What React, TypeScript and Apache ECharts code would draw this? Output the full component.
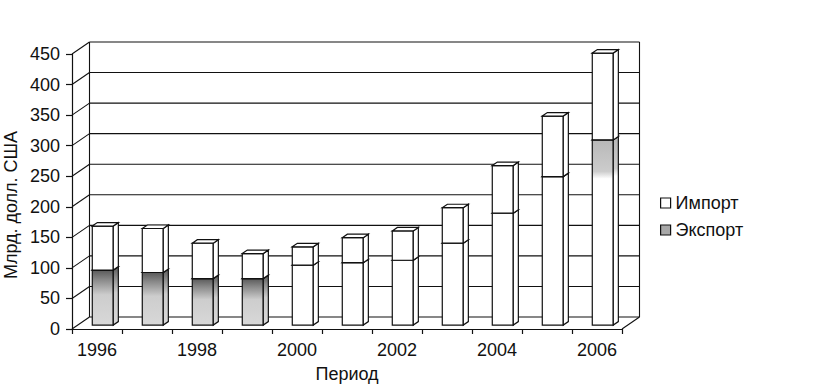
import React, { useEffect, useRef } from 'react';
import * as echarts from 'echarts';

const categories = ['1996', '1997', '1998', '1999', '2000', '2001', '2002', '2003', '2004', '2005', '2006'];
const exportValues = [90, 86, 76, 76, 98, 102, 106, 134, 183, 243, 303];
const importValues = [72, 72, 58, 41, 30, 41, 48, 58, 78, 99, 142];
const yTicks = [0, 50, 100, 150, 200, 250, 300, 350, 400, 450];
const seriesNames = { imp: 'Импорт', exp: 'Экспорт' };
const yTitle = 'Млрд. долл. США';
const xTitle = 'Период';

// styling (not data)
const EXPORT_SHADE = ['dark', 'dark', 'dark', 'dark', 'none', 'none', 'none', 'none', 'none', 'none', 'light'];
const DEPTH_X = 17.5;
const DEPTH_Y = -12;
const BAR_FRONT = 0.33;
const BAR_BACK = 0.62;
const BAR_RATIO = 0.42;
const LINE = '#111';
const FONT = '"Liberation Sans", Arial, sans-serif';

function shadeFill(kind: string) {
  if (kind === 'dark') {
    return new echarts.graphic.LinearGradient(0, 0, 0, 1, [
      { offset: 0, color: '#5a5a5a' },
      { offset: 0.18, color: '#8a8a8a' },
      { offset: 0.45, color: '#cdcdcd' },
      { offset: 1, color: '#d8d8d8' },
    ]);
  }
  if (kind === 'light') {
    return new echarts.graphic.LinearGradient(0, 0, 0, 1, [
      { offset: 0, color: '#b8b8b8' },
      { offset: 0.17, color: '#cccccc' },
      { offset: 0.21, color: '#ffffff' },
      { offset: 1, color: '#ffffff' },
    ]);
  }
  return '#ffffff';
}

function barRender(isExport: boolean) {
  return (params: any, api: any) => {
    const i = params.dataIndex;
    const base = api.value(1);
    const top = api.value(2);
    const pb = api.coord([i, base]);
    const pt = api.coord([i, top]);
    const band = api.size([1, 0])[0];
    const bw = band * BAR_RATIO;
    const fx = DEPTH_X * BAR_FRONT;
    const fy = DEPTH_Y * BAR_FRONT;
    const dx = DEPTH_X * (BAR_BACK - BAR_FRONT);
    const dy = DEPTH_Y * (BAR_BACK - BAR_FRONT);
    const x0 = pb[0] + fx - bw / 2;
    const yb = pb[1] + fy;
    const yt = pt[1] + fy;
    const fill = isExport ? shadeFill(EXPORT_SHADE[i]) : '#ffffff';
    const stroke = { stroke: LINE, lineWidth: 1.2 };
    const children: any[] = [
      {
        type: 'rect',
        shape: { x: x0, y: yt, width: bw, height: yb - yt },
        style: { fill, ...stroke },
      },
      {
        type: 'polygon',
        shape: {
          points: [
            [x0 + bw, yt],
            [x0 + bw + dx, yt + dy],
            [x0 + bw + dx, yb + dy],
            [x0 + bw, yb],
          ],
        },
        style: { fill, ...stroke },
      },
      {
        type: 'polygon',
        shape: {
          points: [
            [x0, yt],
            [x0 + dx, yt + dy],
            [x0 + bw + dx, yt + dy],
            [x0 + bw, yt],
          ],
        },
        style: { fill: '#ffffff', ...stroke },
      },
    ];
    return { type: 'group', children };
  };
}

function wallRender(params: any, api: any) {
  const n = categories.length;
  const band = api.size([1, 0])[0];
  const xL = api.coord([0, 0])[0] - band / 2;
  const xR = api.coord([n - 1, 0])[0] + band / 2;
  const y0 = api.coord([0, yTicks[0]])[1];
  const yMax = api.coord([0, yTicks[yTicks.length - 1]])[1];
  const style = { stroke: LINE, lineWidth: 1.1 };
  const children: any[] = [];
  yTicks.forEach((t) => {
    const y = api.coord([0, t])[1];
    children.push({
      type: 'line',
      shape: { x1: xL + DEPTH_X, y1: y + DEPTH_Y, x2: xR + DEPTH_X, y2: y + DEPTH_Y },
      style,
    });
    children.push({
      type: 'line',
      shape: { x1: xL, y1: y, x2: xL + DEPTH_X, y2: y + DEPTH_Y },
      style,
    });
  });
  children.push({
    type: 'line',
    shape: { x1: xL + DEPTH_X, y1: y0 + DEPTH_Y, x2: xL + DEPTH_X, y2: yMax + DEPTH_Y },
    style,
  });
  children.push({
    type: 'line',
    shape: { x1: xR + DEPTH_X, y1: y0 + DEPTH_Y, x2: xR + DEPTH_X, y2: yMax + DEPTH_Y },
    style,
  });
  children.push({
    type: 'line',
    shape: { x1: xR, y1: y0, x2: xR + DEPTH_X, y2: y0 + DEPTH_Y },
    style,
  });
  return { type: 'group', children };
}

export default function App() {
  const ref = useRef<HTMLDivElement>(null);
  useEffect(() => {
    document.body.style.margin = '0';
    if (!ref.current) return;
    const chart = echarts.init(ref.current, undefined, { renderer: 'svg' });
    const exportData = exportValues.map((v, i) => [i, 0, v]);
    const importData = importValues.map((v, i) => [i, exportValues[i], exportValues[i] + v]);
    chart.setOption({
      animation: false,
      backgroundColor: '#ffffff',
      textStyle: { fontFamily: FONT },
      grid: { left: 72, top: 54, width: 550, height: 281 },
      legend: {
        orient: 'vertical',
        left: 655,
        top: 189,
        itemWidth: 10,
        itemHeight: 10,
        itemGap: 9,
        icon: 'rect',
        textStyle: { fontSize: 18, color: '#111', fontFamily: FONT },
        data: [
          { name: seriesNames.imp, itemStyle: { color: '#ffffff', borderColor: '#111', borderWidth: 1.2 } },
          { name: seriesNames.exp, itemStyle: { color: '#a8a8a8', borderColor: '#111', borderWidth: 1.2 } },
        ],
      },
      xAxis: {
        type: 'category',
        data: categories,
        boundaryGap: true,
        name: xTitle,
        nameLocation: 'middle',
        nameGap: 36,
        nameTextStyle: { fontSize: 18, color: '#111', fontFamily: FONT },
        axisLine: { show: true, lineStyle: { color: LINE, width: 1.2 } },
        axisTick: { show: true, interval: 0, length: 5, lineStyle: { color: LINE, width: 1.2 } },
        axisLabel: { interval: 1, fontSize: 18, color: '#111', margin: 12, fontFamily: FONT },
        splitLine: { show: false },
      },
      yAxis: {
        type: 'value',
        min: 0,
        max: 450,
        interval: 50,
        axisLine: { show: true, lineStyle: { color: LINE, width: 1.2 } },
        axisTick: { show: true, length: 6, lineStyle: { color: LINE, width: 1.2 } },
        axisLabel: { fontSize: 18, color: '#111', margin: 12, fontFamily: FONT },
        splitLine: { show: false },
      },
      graphic: [
        {
          type: 'text',
          x: 11,
          y: 205,
          rotation: Math.PI / 2,
          style: {
            text: yTitle,
            font: `18px ${FONT}`,
            fill: '#111',
            align: 'center',
            verticalAlign: 'middle',
          },
        },
      ],
      series: [
        {
          type: 'custom',
          name: 'walls',
          silent: true,
          z: 1,
          renderItem: wallRender,
          data: [[0, 0]],
          encode: { x: 0, y: 1 },
        },
        {
          type: 'custom',
          name: seriesNames.exp,
          z: 2,
          renderItem: barRender(true),
          itemStyle: { color: '#a8a8a8' },
          data: exportData,
          encode: { x: 0, y: [1, 2] },
        },
        {
          type: 'custom',
          name: seriesNames.imp,
          z: 3,
          renderItem: barRender(false),
          itemStyle: { color: '#ffffff' },
          data: importData,
          encode: { x: 0, y: [1, 2] },
        },
      ],
    });
    return () => chart.dispose();
  }, []);
  return <div ref={ref} style={{ width: 819, height: 388, position: 'absolute', left: 0, top: 0 }} />;
}
